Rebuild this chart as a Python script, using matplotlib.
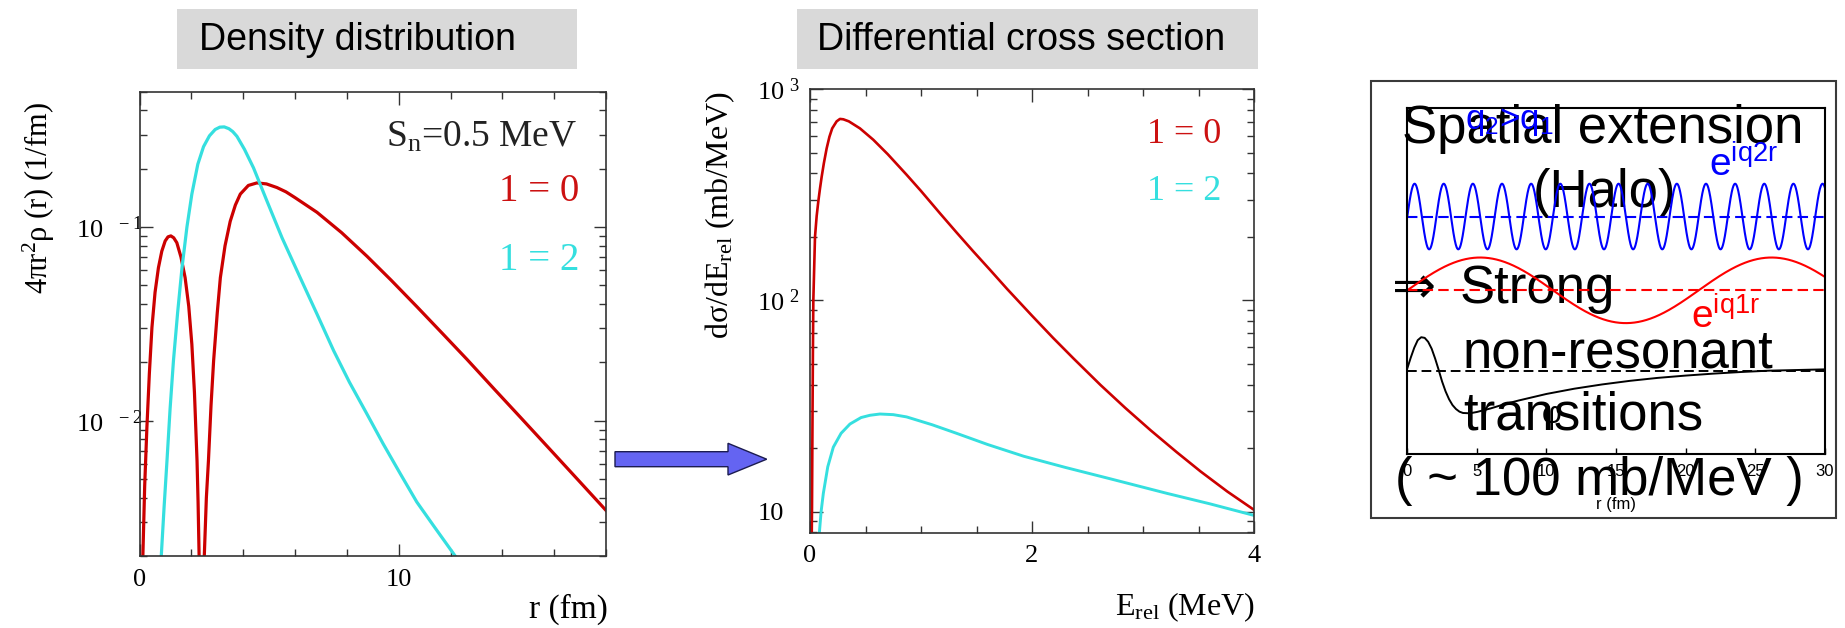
import numpy as np
import matplotlib
matplotlib.use("Agg")
import matplotlib.pyplot as plt
from matplotlib.patches import Rectangle, Polygon
from matplotlib.ticker import MultipleLocator, LogLocator, NullFormatter, FuncFormatter

# density distribution 4*pi*r^2*rho(r), S_n = 0.5 MeV
r_l0 = [0.03, 0.13, 0.20, 0.285, 0.38, 0.48, 0.60, 0.73, 0.86, 0.99, 1.10, 1.21,
        1.32, 1.44, 1.60, 1.76, 1.90, 2.02, 2.12, 2.22, 2.26, 2.30, 2.40, 2.50,
        2.58, 2.66, 2.76, 2.86, 3.00, 3.12, 3.30, 3.50, 3.70, 3.89, 4.20, 4.53,
        4.90, 5.30, 5.65, 6.00, 6.85, 7.80, 8.78, 9.70, 10.71, 11.70, 12.64,
        13.70, 14.70, 15.80, 16.90, 18.00]
rho_l0 = [0.0001, 0.0020, 0.0046, 0.0092, 0.0175, 0.0303, 0.0460, 0.0616, 0.0750,
          0.0847, 0.0890, 0.0900, 0.0880, 0.0830, 0.0700, 0.0548, 0.0390, 0.0248,
          0.0140, 0.0062, 0.0038, 0.0020, 0.0001, 0.0020, 0.0040, 0.0062, 0.0120,
          0.0204, 0.0360, 0.0548, 0.0800, 0.1070, 0.1300, 0.1480, 0.1640, 0.1690,
          0.1670, 0.1600, 0.1520, 0.1419, 0.1191, 0.0935, 0.0706, 0.0533, 0.0387,
          0.0281, 0.0207, 0.0145, 0.0104, 0.0072, 0.00498, 0.00344]
r_l2 = [0.70, 0.84, 0.95, 1.06, 1.18, 1.31, 1.47, 1.64, 1.83, 2.02, 2.25, 2.47,
        2.70, 2.92, 3.10, 3.27, 3.45, 3.60, 3.76, 4.05, 4.40, 4.92, 5.50, 6.20,
        6.85, 7.49, 8.10, 8.78, 9.40, 10.07, 10.70, 11.40, 12.30, 12.60]
rho_l2 = [0.0007, 0.0020, 0.0036, 0.0062, 0.0115, 0.0204, 0.0360, 0.0616, 0.1000,
          0.1480, 0.2110, 0.2600, 0.2960, 0.3190, 0.3280, 0.3290, 0.3220, 0.3110,
          0.2940, 0.2520, 0.2020, 0.1360, 0.0880, 0.0548, 0.0355, 0.0230, 0.0158,
          0.0108, 0.0076, 0.0053, 0.0038, 0.0028, 0.0019, 0.0016]

# differential cross section d(sigma)/dE_rel (mb/MeV)
e_l0 = [0.012, 0.018, 0.022, 0.026, 0.030, 0.045, 0.060, 0.075, 0.090, 0.105,
        0.125, 0.15, 0.175, 0.20, 0.24, 0.27, 0.30, 0.35, 0.45, 0.57, 0.70, 0.87,
        1.00, 1.17, 1.32, 1.47, 1.62, 1.775, 2.00, 2.19, 2.376, 2.617, 2.84,
        3.068, 3.30, 3.519, 3.76, 4.00]
xs_l0 = [5.0, 10.5, 25, 55, 100, 200, 251, 295, 339, 385, 447, 525, 596, 653, 705,
         724, 721, 705, 653, 577, 493, 394, 330, 259, 210, 171, 140, 113.5, 84.7,
         66.5, 53.0, 39.8, 31.0, 24.3, 19.2, 15.5, 12.45, 10.2]
e_l2 = [0.075, 0.084, 0.10, 0.12, 0.16, 0.21, 0.28, 0.36, 0.46, 0.54, 0.63, 0.75,
        0.87, 1.10, 1.32, 1.60, 1.925, 2.30, 2.707, 3.218, 3.60, 4.00]
xs_l2 = [6.0, 7.9, 10.0, 12.2, 16.3, 20.2, 23.5, 26.0, 27.9, 28.6, 29.0, 28.8,
         28.1, 25.8, 23.5, 20.8, 18.3, 16.2, 14.3, 12.2, 10.9, 9.6]

# sketch of the scattering waves and the bound state
q1, q2 = 0.3, 3.0
r_bound = [0, 0.25, 0.5, 0.75, 1.0, 1.25, 1.5, 1.75, 2.0, 2.25, 2.5, 2.75, 3.0,
           3.25, 3.5, 3.75, 4.0, 4.5, 5.0, 6.0, 7.0, 8.0, 10, 12, 14, 16, 18, 20,
           22, 24, 26, 28, 30]
psi_bound = [0.07, 0.40, 0.70, 0.93, 1.02, 1.00, 0.88, 0.67, 0.37, 0.03, -0.33,
             -0.63, -0.87, -1.05, -1.17, -1.25, -1.29, -1.30, -1.26, -1.15, -1.02,
             -0.91, -0.71, -0.55, -0.42, -0.31, -0.22, -0.15, -0.09, -0.04, 0.00,
             0.02, 0.04]

W, H = 1845, 628
RED = "#cc0000"
CYAN = "#35dfdf"
SERIF = "Liberation Serif"
SANS = ["Liberation Sans", "DejaVu Sans"]

plt.rcParams["font.family"] = SERIF
plt.rcParams["mathtext.default"] = "regular"


def fx(x):
    return x / W


def fy(y):
    return 1 - y / H


def box(x0, y0, x1, y1):
    return [fx(x0), fy(y1), (x1 - x0) / W, (y1 - y0) / H]


def style_log_axes(ax):
    for s in ax.spines.values():
        s.set_linewidth(1.2)
        s.set_color("#333333")
    ax.tick_params(which="both", direction="in", top=True, right=True,
                   width=1.0, color="#333333", labelsize=19, pad=9)
    ax.tick_params(which="major", length=9)
    ax.tick_params(which="minor", length=5)
    ax.yaxis.set_major_locator(LogLocator(base=10))
    ax.yaxis.set_minor_locator(LogLocator(base=10, subs=np.arange(2, 10)))
    ax.yaxis.set_minor_formatter(NullFormatter())


def left_aligned_yticks(ax, pad):
    ax.tick_params(axis="y", which="major", pad=pad)
    for lab in ax.get_yticklabels():
        lab.set_horizontalalignment("left")


fig = plt.figure(figsize=(W / 100, H / 100), dpi=100)

# title boxes
for (x0, x1, tx, title) in [(177, 577, 199, "Density distribution"),
                            (797, 1258, 817, "Differential cross section")]:
    fig.patches.append(Rectangle((fx(x0), fy(69)), (x1 - x0) / W, 60 / H,
                                 transform=fig.transFigure, facecolor="#d9d9d9",
                                 edgecolor="none"))
    fig.text(fx(tx), fy(50), title, fontsize=27, family=SANS, va="baseline")

# density distribution
ax1 = fig.add_axes(box(139.5, 91.7, 606, 556))
ax1.plot(r_l0, rho_l0, color=RED, lw=2.3)
ax1.plot(r_l2, rho_l2, color=CYAN, lw=2.3)
ax1.set_yscale("log")
ax1.set_xlim(0, 18)
ax1.set_ylim(0.002, 0.5)
style_log_axes(ax1)
ax1.xaxis.set_major_locator(MultipleLocator(10))
ax1.xaxis.set_minor_locator(MultipleLocator(2))
ax1.yaxis.set_major_formatter(FuncFormatter(
    lambda v, p: r"$10^{\ \ %d}$" % int(round(np.log10(v)))))
left_aligned_yticks(ax1, 46)
ax1.set_ylabel("4πr$^2$ρ (r) (1/fm)", fontsize=22, va="center")
ax1.yaxis.set_label_coords(fx(39), fy(198), transform=fig.transFigure)
ax1.set_xlabel("r (fm)", fontsize=24, ha="right", va="baseline")
ax1.xaxis.set_label_coords(fx(608), fy(618), transform=fig.transFigure)
ax1.text(fx(577), fy(147), "S$_n$=0.5 MeV", transform=fig.transFigure,
         fontsize=27, ha="right", va="baseline", color="#222222")
ax1.text(fx(579), fy(201), "1 = 0", transform=fig.transFigure, fontsize=28,
         ha="right", va="baseline", color="#cc1111")
ax1.text(fx(579), fy(270), "1 = 2", transform=fig.transFigure, fontsize=28,
         ha="right", va="baseline", color=CYAN)

# arrow between the two panels
arrow = Polygon([(fx(615), fy(451.7)), (fx(728), fy(451.7)), (fx(728), fy(443.3)),
                 (fx(766.7), fy(459.2)), (fx(728), fy(475)), (fx(728), fy(466.7)),
                 (fx(615), fy(466.7))], closed=True, transform=fig.transFigure,
                facecolor="#6464f2", edgecolor="#1c1c50", lw=1.0)
fig.patches.append(arrow)

# differential cross section
ax2 = fig.add_axes(box(810, 89.3, 1254, 532.7))
ax2.plot(e_l0, xs_l0, color=RED, lw=1.9)
ax2.plot(e_l2, xs_l2, color=CYAN, lw=2.1)
ax2.set_yscale("log")
ax2.set_xlim(0, 4)
ax2.set_ylim(7.95, 1000)
style_log_axes(ax2)
ax2.xaxis.set_major_locator(MultipleLocator(2))
ax2.xaxis.set_minor_locator(MultipleLocator(0.5))
ax2.yaxis.set_major_formatter(FuncFormatter(
    lambda v, p: "10" if round(np.log10(v)) == 1 else r"$10^{\ %d}$" % int(round(np.log10(v)))))
left_aligned_yticks(ax2, 38)
ax2.set_ylabel("dσ/dE$_{rel}$ (mb/MeV)", fontsize=23, va="center")
ax2.yaxis.set_label_coords(fx(720), fy(215), transform=fig.transFigure)
ax2.set_xlabel("E$_{rel}$ (MeV)", fontsize=23, ha="right", va="baseline")
ax2.xaxis.set_label_coords(fx(1255), fy(615), transform=fig.transFigure)
ax2.text(fx(1221), fy(143), "1 = 0", transform=fig.transFigure, fontsize=26,
         ha="right", va="baseline", color="#cc1111")
ax2.text(fx(1221), fy(200), "1 = 2", transform=fig.transFigure, fontsize=26,
         ha="right", va="baseline", color=CYAN)

# halo sketch: text block under the plotted waves
fig.patches.append(Rectangle((fx(1370.7), fy(518.3)), 465 / W, 437.3 / H,
                             transform=fig.transFigure, fill=False,
                             edgecolor="#3a3a3a", lw=1.5, zorder=0.4))
big = dict(fontsize=38, family=SANS, va="baseline", zorder=0.5)
fig.text(fx(1603), fy(143), "Spatial extension", ha="center", **big)
fig.text(fx(1604), fy(207), "(Halo)", ha="center", **big)
fig.text(fx(1392), fy(303), "⇒", ha="left", **big)
fig.text(fx(1460), fy(303), "Strong", ha="left", **big)
fig.text(fx(1463), fy(367), "non-resonant", ha="left", **big)
fig.text(fx(1463), fy(430), "transitions", ha="left", **big)
fig.text(fx(1599), fy(495), "( ~ 100 mb/MeV )", ha="center", **big)

ax3 = fig.add_axes(box(1407.3, 108.3, 1824.7, 454.3))
ax3.set_zorder(1)
ax3.patch.set_alpha(0)
r = np.linspace(0, 30, 2000)
blue_off, red_off, black_off = 7.25, 5.0, 2.55
dash = (0, (5, 2.5))
ax3.plot(r, blue_off + np.sin(q2 * r), color="#0000ff", lw=1.5)
ax3.axhline(blue_off, color="#0000ff", lw=1.5, ls=dash)
ax3.plot(r, red_off + np.sin(q1 * r), color="#ff0000", lw=1.5)
ax3.axhline(red_off, color="#ff0000", lw=1.5, ls=dash)
ax3.plot(r_bound, black_off + np.array(psi_bound), color="black", lw=1.4)
ax3.axhline(black_off, color="black", lw=1.4, ls=dash)
ax3.set_xlim(0, 30)
ax3.set_ylim(0, 10.55)
ax3.set_yticks([])
ax3.set_xticks(np.arange(0, 31, 5))
ax3.tick_params(axis="x", direction="in", length=4, width=1, labelsize=12, pad=7,
                labelfontfamily="Liberation Sans")
for s in ax3.spines.values():
    s.set_linewidth(1.5)
ax3.set_xlabel("r (fm)", fontsize=12, family=SANS, va="center")
ax3.xaxis.set_label_coords(fx(1616), fy(504), transform=fig.transFigure)

ax3.text(fx(1465), fy(129), "q$_2$>q$_1$", transform=fig.transFigure,
         fontsize=25, family=SANS, color="#0000ff", va="baseline")
ax3.text(fx(1709), fy(177), "e$^{iq2r}$", transform=fig.transFigure,
         fontsize=28, family=SANS, color="#0000ff", va="baseline")
ax3.text(fx(1691), fy(329), "e$^{iq1r}$", transform=fig.transFigure,
         fontsize=28, family=SANS, color="#ff0000", va="baseline")
ax3.text(fx(1552), fy(415), "φ", transform=fig.transFigure, fontsize=22,
         family=SANS, ha="center", va="center")

fig.savefig("out.png", dpi=100, facecolor="white")
